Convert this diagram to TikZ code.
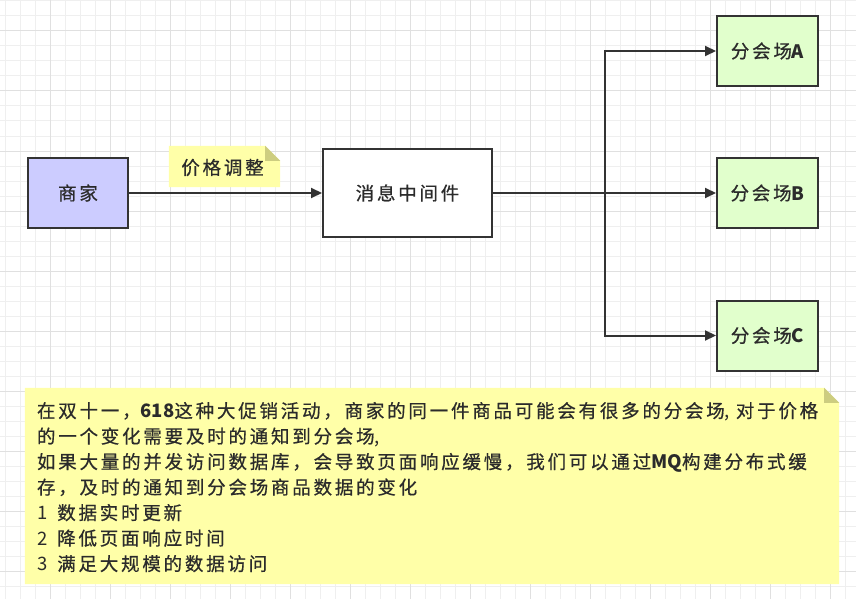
\documentclass[tikz,border=0pt]{standalone}
\usepackage{fontspec}
\setmainfont{Noto Sans CJK SC}
\newfontfamily\cjk{Noto Sans CJK SC}[LetterSpace=15, FakeBold=0.6]
\usetikzlibrary{arrows.meta}
\definecolor{gridminor}{HTML}{EFEFEF}
\definecolor{gridmajor}{HTML}{E0E0E0}
\definecolor{bordercol}{HTML}{333333}
\definecolor{textcol}{HTML}{2B2B2B}
\definecolor{merchantfill}{HTML}{CCCCFF}
\definecolor{venuefill}{HTML}{E1FFCC}
\definecolor{notefillcol}{HTML}{FFFFA8}
\definecolor{foldcol}{HTML}{CDCD80}
\newcommand\latn[1]{{\normalfont #1}}
\begin{document}
\begin{tikzpicture}[x=1pt,y=-1pt,
  boxstyle/.style={draw=bordercol, line width=2pt, text=textcol, inner sep=0pt,
    font=\cjk\fontsize{18.5}{20}\selectfont},
  merchant/.style={boxstyle, fill=merchantfill, minimum width=100pt, minimum height=70pt},
  mq/.style={boxstyle, fill=white, minimum width=169pt, minimum height=88pt},
  venue/.style={boxstyle, fill=venuefill, minimum width=101pt, minimum height=70pt},
  noteframe/.style={draw=none, inner sep=0pt},
  notefill/.style={fill=notefillcol},
  foldfill/.style={fill=foldcol},
  notetext/.style={text=textcol, inner sep=0pt, align=left,
    font=\cjk\fontsize{18.5}{25.5}\selectfont},
  conn/.style={draw=bordercol, line width=2pt, -{Triangle[length=11pt,width=10pt]}},
  connplain/.style={draw=bordercol, line width=2pt}
]
\useasboundingbox (0,0) rectangle (856,599);
\fill[white] (0,0) rectangle (856,599);
% grid
\foreach \i in {0,...,57} {
  \draw[gridminor, line width=1pt] ({5+15*\i},0) -- ({5+15*\i},599);
}
\foreach \i in {0,...,39} {
  \draw[gridminor, line width=1pt] (0,{1+15*\i}) -- (856,{1+15*\i});
}
\foreach \i in {0,...,13} {
  \draw[gridmajor, line width=1pt] ({50+60*\i},0) -- ({50+60*\i},599);
}
\foreach \i in {0,...,9} {
  \draw[gridmajor, line width=1pt] (0,{31+60*\i}) -- (856,{31+60*\i});
}

% nodes
\node[merchant] (shop) at (78,193) {商家};
\node[mq] (mq) at (407.5,193) {消息中间件};
\node[venue] (va) at (767.5,51) {分会场\latn{\bfseries A}};
\node[venue] (vb) at (767.5,193) {分会场\latn{\bfseries B}};
\node[venue] (vc) at (767.5,335.5) {分会场\latn{\bfseries C}};

% small note
\node[noteframe, minimum width=111pt, minimum height=41pt] (tag) at (224.5,166.5) {};
\fill[notefill] (tag.south west) -- (tag.north west) -- ([xshift=-15pt]tag.north east)
  -- ([yshift=-15pt]tag.north east) -- (tag.south east) -- cycle;
\fill[foldfill] ([xshift=-15pt]tag.north east) -- ([yshift=-15pt]tag.north east)
  -- ([xshift=-15pt,yshift=-15pt]tag.north east) -- cycle;
\node[notetext] (tagtxt) at ([xshift=-2pt,yshift=-1pt]tag.center) {价格调整};

% connectors
\coordinate (split) at (605,193);
\draw[conn] (shop.east) -- (mq.west);
\draw[connplain] (mq.east) -- (split);
\draw[conn] (split) |- (va.west);
\draw[conn] (split) -- (vb.west);
\draw[conn] (split) |- (vc.west);

% big note
\node[noteframe, minimum width=814pt, minimum height=196pt] (note) at (432,486) {};
\fill[notefill] (note.south west) -- (note.north west) -- ([xshift=-15pt]note.north east)
  -- ([yshift=-15pt]note.north east) -- (note.south east) -- cycle;
\fill[foldfill] ([xshift=-15pt]note.north east) -- ([yshift=-15pt]note.north east)
  -- ([xshift=-15pt,yshift=-15pt]note.north east) -- cycle;
\node[notetext, anchor=north west] (notetxt) at ([xshift=12pt,yshift=-14pt]note.north west) {%
在双十一，\latn{\bfseries 618}这种大促销活动，商家的同一件商品可能会有很多的分会场\latn{,}\hspace{6pt}对于价格\\
的一个变化需要及时的通知到分会场\latn{,}\\
如果大量的并发访问数据库，会导致页面响应缓慢，我们可以通过\latn{\bfseries MQ}构建分布式缓\\
存，及时的通知到分会场商品数据的变化\\
\latn{1}\hspace{10pt}数据实时更新\\
\latn{2}\hspace{10pt}降低页面响应时间\\
\latn{3}\hspace{10pt}满足大规模的数据访问};
\end{tikzpicture}
\end{document}
